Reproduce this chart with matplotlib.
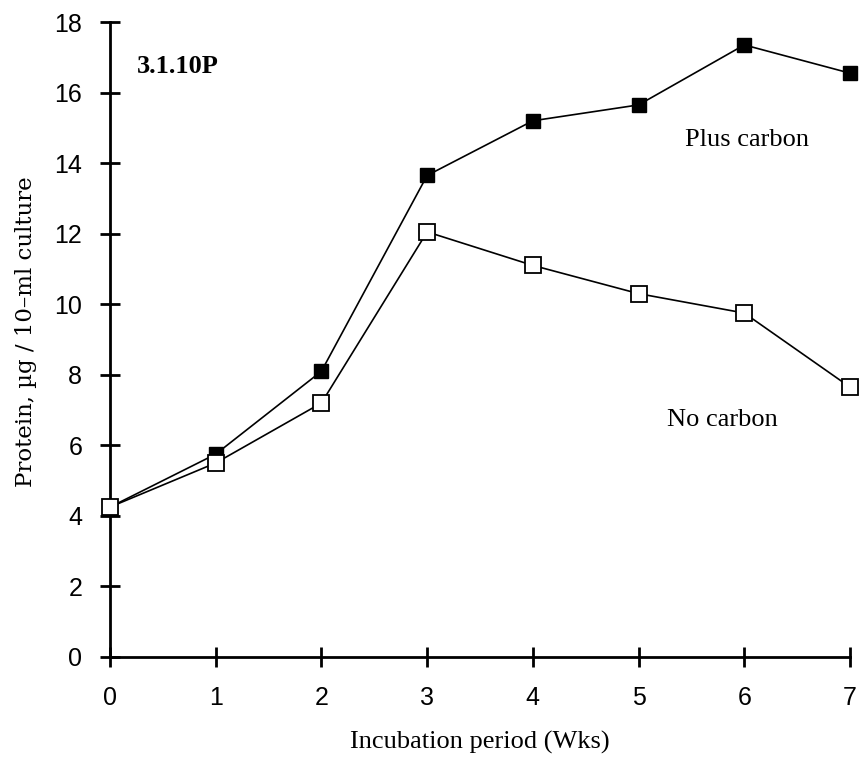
import matplotlib
matplotlib.use("Agg")
from matplotlib import pyplot as plt

# 数据: 培养周数与蛋白含量
weeks = [0, 1, 2, 3, 4, 5, 6, 7]
plus_carbon = [4.25, 5.75, 8.1, 13.65, 15.2, 15.65, 17.35, 16.55]
no_carbon = [4.25, 5.5, 7.2, 12.05, 11.1, 10.3, 9.75, 7.65]
y_ticks = [0, 2, 4, 6, 8, 10, 12, 14, 16, 18]

serif = ['Liberation Serif', 'DejaVu Serif']
sans = ['Liberation Sans', 'DejaVu Sans']

fig = plt.figure(figsize=(8.62, 7.63), dpi=100)
ax = fig.add_axes([110 / 862, 106 / 763, 740 / 862, 635 / 763])

# 两条折线, 实心方块为加碳, 空心方块为不加碳(画在上层)
ax.plot(weeks, plus_carbon, color='black', linewidth=1.2, marker='s',
        markersize=9.5, markerfacecolor='black', markeredgecolor='black',
        clip_on=False, zorder=3)
ax.plot(weeks, no_carbon, color='black', linewidth=1.2, marker='s',
        markersize=11, markerfacecolor='white', markeredgecolor='black',
        markeredgewidth=1.3, clip_on=False, zorder=4)

ax.set_xlim(0, 7)
ax.set_ylim(0, 18)
ax.set_xticks(weeks)
ax.set_yticks(y_ticks)

for side in ['top', 'right']:
    ax.spines[side].set_visible(False)
for side in ['left', 'bottom']:
    ax.spines[side].set_linewidth(2)

ax.tick_params(axis='both', direction='inout', length=14, width=2,
               labelsize=18)
ax.tick_params(axis='x', pad=14)
ax.tick_params(axis='y', pad=13)
for lab in ax.get_xticklabels() + ax.get_yticklabels():
    lab.set_family(sans)

ax.set_xlabel('Incubation period (Wks)', family=serif, fontsize=19,
              labelpad=15)
ax.set_ylabel('Protein, µg / 10\u2013ml culture',
              family=['DejaVu Serif'], fontsize=16.5)
ax.yaxis.set_label_coords(-0.099, 0.512)

ax.text(0.25, 16.75, '3.1.10P', family=serif, fontsize=19,
        fontweight='bold', ha='left', va='center')
ax.text(6.03, 14.65, 'Plus carbon', family=serif, fontsize=19,
        ha='center', va='center')
ax.text(5.79, 6.72, 'No carbon', family=serif, fontsize=19,
        ha='center', va='center')

fig.savefig('out.png', dpi=100)
